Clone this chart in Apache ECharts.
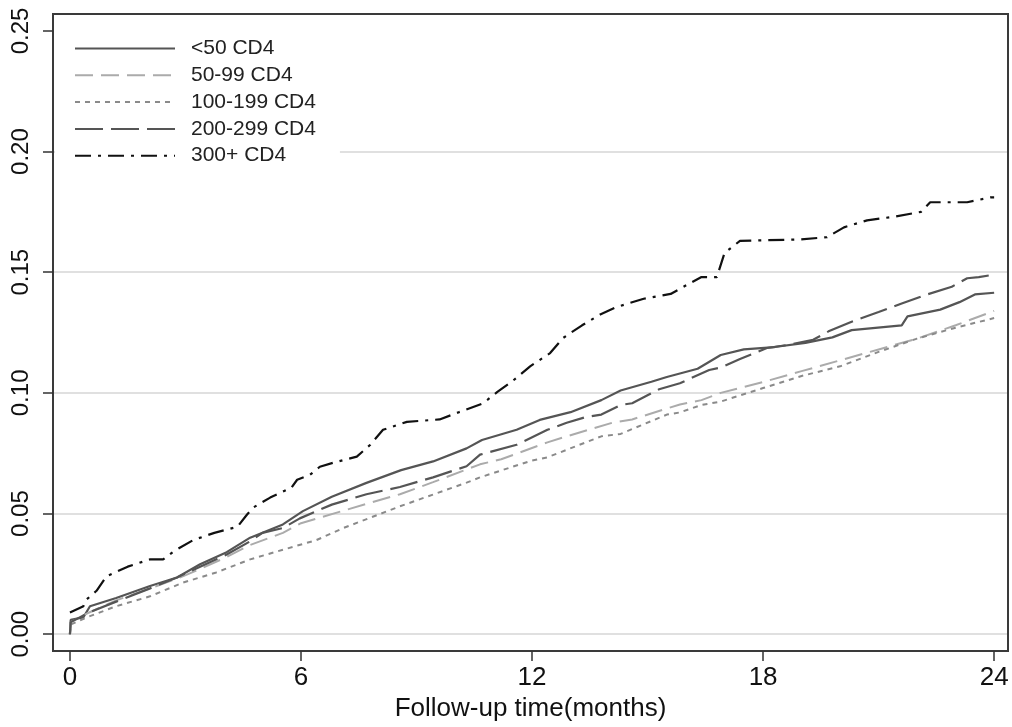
<!DOCTYPE html>
<html>
<head>
<meta charset="utf-8">
<script src="https://cdn.jsdelivr.net/npm/echarts@6/dist/echarts.min.js"></script>
<style>
  html, body { margin: 0; padding: 0; background: #fff; }
  #chart { width: 1012px; height: 727px; }
</style>
</head>
<body>
<div id="chart"></div>
<script>
// ---- Data ----
const seriesNames = ['<50 CD4', '50-99 CD4', '100-199 CD4', '200-299 CD4', '300+ CD4'];

const xTicks = [0, 6, 12, 18, 24];
const yTicks = [0, 0.05, 0.10, 0.15, 0.20, 0.25];
const yGridLines = [0, 0.05, 0.10, 0.15, 0.20];
const xTitle = 'Follow-up time(months)';

// <50 CD4
const t50 = [0, 0.02, 0.35, 0.52, 1.2, 2.08, 2.78, 3.38, 4.07, 4.68, 5.53, 6.05, 6.8, 7.7, 8.6, 9.43, 10.3, 10.7, 11.6, 12.2, 13.0, 13.8, 14.3, 15.1, 15.5, 16.3, 16.9, 17.5, 18.3, 19.1, 19.8, 20.3, 21.6, 21.75, 22.6, 23.1, 23.5, 24.0];
const v50 = [0, 0.006, 0.007, 0.0116, 0.015, 0.020, 0.0235, 0.029, 0.034, 0.040, 0.0455, 0.051, 0.057, 0.0627, 0.068, 0.0716, 0.077, 0.0805, 0.0847, 0.0888, 0.092, 0.097, 0.101, 0.1046, 0.1066, 0.110, 0.1157, 0.118, 0.119, 0.1207, 0.123, 0.126, 0.128, 0.1317, 0.1345, 0.1376, 0.1408, 0.1415];

// 50-99 CD4
const t5099 = [0, 0.02, 0.5, 1.2, 2.08, 2.78, 3.38, 4.07, 4.68, 5.53, 6.0, 7.7, 8.57, 9.43, 10.65, 11.2, 12.4, 12.9, 14.1, 14.6, 15.84, 16.4, 16.9, 18.0, 19.0, 20.0, 21.0, 22.0, 23.0, 24.0];
const v5099 = [0, 0.005, 0.009, 0.014, 0.019, 0.023, 0.027, 0.032, 0.037, 0.042, 0.046, 0.054, 0.058, 0.063, 0.0704, 0.0725, 0.0795, 0.082, 0.0877, 0.089, 0.0952, 0.097, 0.100, 0.1045, 0.109, 0.1135, 0.118, 0.1225, 0.128, 0.134];

// 100-199 CD4
const t100 = [0, 0.02, 0.44, 1.2, 2.08, 2.94, 3.8, 4.68, 5.53, 6.4, 7.1, 8.57, 10.3, 10.65, 12.0, 12.4, 13.8, 14.3, 15.5, 15.84, 16.4, 16.9, 18.0, 19.0, 20.0, 21.0, 22.0, 23.0, 24.0];
const v100 = [0, 0.004, 0.007, 0.0116, 0.0157, 0.0214, 0.0256, 0.031, 0.035, 0.039, 0.044, 0.053, 0.0628, 0.065, 0.072, 0.0733, 0.082, 0.083, 0.091, 0.0919, 0.095, 0.0964, 0.102, 0.107, 0.111, 0.117, 0.1225, 0.127, 0.131];

// 200-299 CD4
const t200 = [0, 0.02, 0.5, 1.2, 2.08, 2.78, 3.38, 4.07, 4.68, 5.0, 5.53, 5.97, 6.8, 7.7, 8.57, 9.43, 10.3, 10.65, 11.6, 12.4, 12.9, 13.4, 13.8, 14.3, 14.6, 15.3, 15.84, 16.6, 16.9, 17.4, 18.1, 18.7, 19.3, 19.7, 20.3, 21.0, 21.6, 22.2, 22.9, 23.3, 23.6, 24.0];
const v200 = [0, 0.005, 0.009, 0.0135, 0.019, 0.0235, 0.028, 0.033, 0.0385, 0.042, 0.044, 0.048, 0.0537, 0.058, 0.061, 0.065, 0.0696, 0.0744, 0.0785, 0.0847, 0.0876, 0.090, 0.091, 0.095, 0.0957, 0.1015, 0.104, 0.1095, 0.1105, 0.114, 0.1186, 0.120, 0.122, 0.1255, 0.1295, 0.1335, 0.137, 0.1405, 0.144, 0.1475, 0.148, 0.149];

// 300+ CD4
const t300 = [0, 0.35, 0.39, 0.69, 0.95, 1.5, 2.08, 2.42, 2.7, 3.2, 3.75, 4.35, 4.6, 4.76, 5.2, 5.75, 5.9, 6.23, 6.49, 6.83, 7.45, 7.8, 8.13, 8.75, 9.6, 10.1, 10.73, 11.1, 11.5, 11.95, 12.47, 12.8, 13.3, 13.77, 14.2, 14.9, 15.6, 16.05, 16.4, 16.8, 17.0, 17.4, 18.96, 19.66, 20.1, 20.7, 21.4, 22.1, 22.34, 23.3, 23.9, 24.0];
const v300 = [0.009, 0.0116, 0.0138, 0.018, 0.024, 0.028, 0.031, 0.031, 0.0344, 0.039, 0.042, 0.0445, 0.0496, 0.0525, 0.0566, 0.0607, 0.064, 0.066, 0.0694, 0.071, 0.0736, 0.0785, 0.0847, 0.088, 0.089, 0.092, 0.0957, 0.1004, 0.105, 0.111, 0.1165, 0.1227, 0.128, 0.1325, 0.1356, 0.139, 0.141, 0.145, 0.148, 0.148, 0.158, 0.163, 0.1636, 0.1645, 0.1686, 0.1715, 0.173, 0.175, 0.179, 0.179, 0.181, 0.181];

// ---- Build ----
function pairs(t, v) { return t.map((x, i) => [x, v[i]]); }

const FONT = '"Liberation Sans", Arial, Helvetica, sans-serif';

const styles = [
  { color: '#555555', width: 2.2, type: 'solid' },
  { color: '#ababab', width: 2, type: [18, 8] },
  { color: '#8a8a8a', width: 2, type: [5, 5] },
  { color: '#555555', width: 2.2, type: [28, 8] },
  { color: '#111111', width: 2.2, type: [16, 7, 3, 7] }
];
const dataSets = [pairs(t50, v50), pairs(t5099, v5099), pairs(t100, v100), pairs(t200, v200), pairs(t300, v300)];

const series = [{
  name: 'grid',
  type: 'line',
  data: [],
  silent: true,
  z: 1,
  markLine: {
    silent: true,
    symbol: 'none',
    z: 1,
    label: { show: false },
    lineStyle: { color: '#e0e0e0', width: 2, type: 'solid' },
    data: yGridLines.map(v => ({ yAxis: v }))
  }
}];
seriesNames.forEach((n, i) => {
  series.push({
    name: n,
    type: 'line',
    data: dataSets[i],
    symbol: 'none',
    showSymbol: false,
    smooth: false,
    animation: false,
    lineStyle: { color: styles[i].color, width: styles[i].width, type: styles[i].type },
    itemStyle: { color: styles[i].color },
    z: 3
  });
});

const chart = echarts.init(document.getElementById('chart'), null, { renderer: 'canvas' });
chart.setOption({
  animation: false,
  backgroundColor: '#ffffff',
  textStyle: { fontFamily: FONT },
  grid: {
    left: 53, right: 4, top: 14, bottom: 75, z: 30,
    show: true, borderColor: '#3a3a3a', borderWidth: 2, backgroundColor: 'transparent'
  },
  legend: {
    data: seriesNames,
    orient: 'vertical',
    left: 55,
    top: 16,
    z: 20,
    padding: [22, 24, 12, 19],
    itemWidth: 100,
    itemHeight: 20,
    itemGap: 5.8,
    backgroundColor: '#ffffff',
    itemStyle: { opacity: 0 },
    textStyle: { fontSize: 21, color: '#222', fontFamily: FONT, padding: [0, 0, 0, 11] },
    selectedMode: false
  },
  xAxis: {
    type: 'value',
    min: -0.44,
    max: 24.36,
    name: xTitle,
    nameLocation: 'middle',
    nameGap: 44,
    z: 30,
    nameTextStyle: { fontSize: 26, color: '#111', fontFamily: FONT },
    axisLine: { show: true, onZero: false, lineStyle: { color: '#3a3a3a', width: 2 } },
    axisTick: { show: true, length: 10, lineStyle: { color: '#333', width: 1.5 }, customValues: xTicks },
    axisLabel: { fontSize: 26, color: '#111', margin: 14, fontFamily: FONT, customValues: xTicks,
      formatter: v => String(v) },
    splitLine: { show: false }
  },
  yAxis: {
    type: 'value',
    min: -0.007,
    max: 0.257,
    z: 30,
    axisLine: { show: true, onZero: false, lineStyle: { color: '#3a3a3a', width: 2 } },
    axisTick: { show: true, length: 10, lineStyle: { color: '#333', width: 1.5 }, customValues: yTicks },
    axisLabel: { fontSize: 24, color: '#111', rotate: 90, margin: 20, fontFamily: FONT, customValues: yTicks,
      formatter: v => Number(v).toFixed(2) },
    splitLine: { show: false }
  },
  series: series
});
</script>
</body>
</html>
